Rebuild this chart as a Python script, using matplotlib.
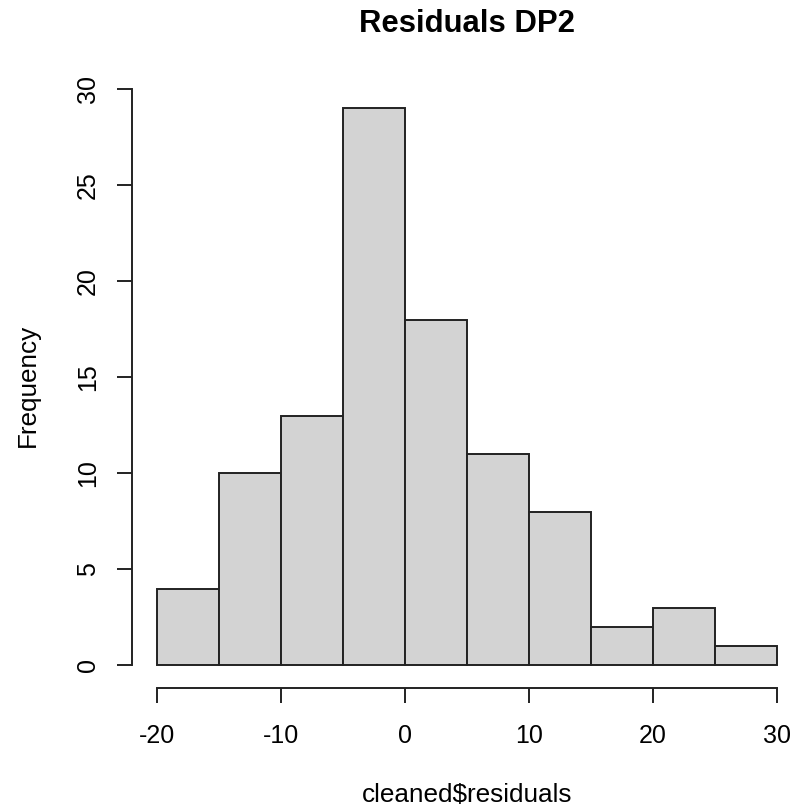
import matplotlib.pyplot as plt

plt.rcParams['font.family'] = ['Liberation Sans', 'DejaVu Sans']

# histogram data (bins of 5)
breaks = [-20, -15, -10, -5, 0, 5, 10, 15, 20, 25, 30]
counts = [4, 10, 13, 29, 18, 11, 8, 2, 3, 1]
x_ticks = [-20, -10, 0, 10, 20, 30]
y_ticks = [0, 5, 10, 15, 20, 25, 30]

W, H = 795, 809
fig = plt.figure(figsize=(W / 100, H / 100), dpi=100)

# plot region like R's (4% padding around data range)
left, right, top, bottom = 132.2, 801.8, 86.0, 687.7
ax = fig.add_axes([left / W, 1 - bottom / H, (right - left) / W, (bottom - top) / H])

widths = [breaks[i + 1] - breaks[i] for i in range(len(counts))]
ax.bar(breaks[:-1], counts, width=widths, align='edge',
       color='#d3d3d3', edgecolor='#222222', linewidth=1.4)

ax.set_xlim(-22, 32)
ax.set_ylim(-1.16, 30.16)

for s in ['top', 'right']:
    ax.spines[s].set_visible(False)
ax.spines['left'].set_bounds(0, 30)
ax.spines['bottom'].set_bounds(-20, 30)
for s in ['left', 'bottom']:
    ax.spines[s].set_linewidth(1.4)
    ax.spines[s].set_color('#222222')

ax.set_xticks(x_ticks)
ax.set_xticklabels([str(v) for v in x_ticks])
ax.set_yticks(y_ticks)
ax.set_yticklabels([str(v) for v in y_ticks], rotation=90, va='center')
ax.tick_params(axis='both', length=10.8, width=1.4, color='#222222',
               labelsize=18)
ax.tick_params(axis='x', pad=15.5)
ax.tick_params(axis='y', pad=12.5)

fig.text(467 / W, 1 - 24 / H, 'Residuals DP2', ha='center', va='center',
         fontsize=22.4, fontweight='bold')
fig.text(467 / W, 1 - 795 / H, 'cleaned$residuals', ha='center', va='center',
         fontsize=18.8)
fig.text(28 / W, 1 - 385 / H, 'Frequency', ha='center', va='center',
         rotation=90, fontsize=18.8)

fig.savefig('out.png', dpi=100)
